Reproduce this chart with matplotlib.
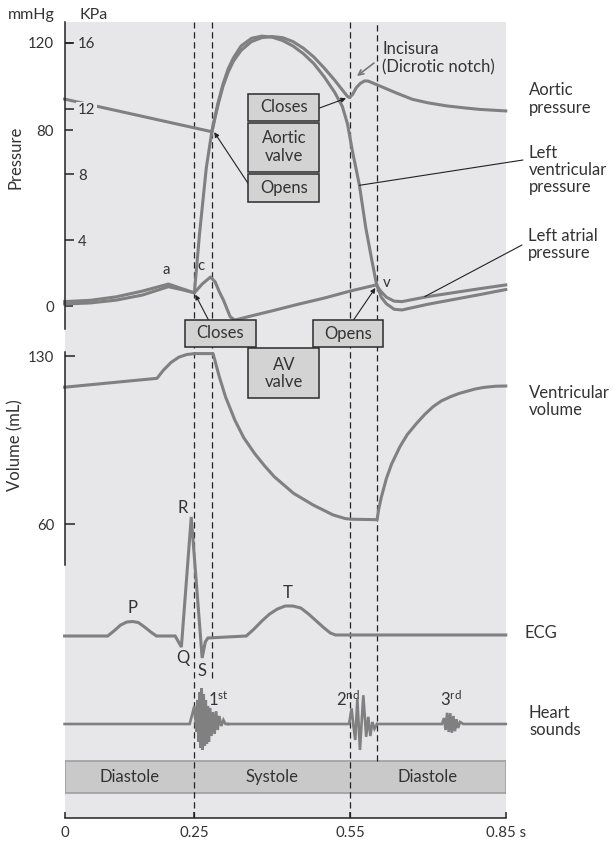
import matplotlib
matplotlib.use("Agg")
import matplotlib.pyplot as plt
from matplotlib.patches import Rectangle

plt.rcParams['font.family'] = ['Lato', 'DejaVu Sans']
plt.rcParams['mathtext.fontset'] = 'custom'
plt.rcParams['mathtext.rm'] = 'Lato'
plt.rcParams['mathtext.it'] = 'Lato:italic'

# ---------------- data ----------------
t_aortic = [0.0, 0.284, 0.29, 0.297, 0.305, 0.315, 0.325, 0.34, 0.36, 0.38, 0.40, 0.42, 0.44,
            0.46, 0.48, 0.50, 0.52, 0.535, 0.545, 0.549, 0.555, 0.562, 0.57, 0.578, 0.585,
            0.595, 0.61, 0.64, 0.67, 0.70, 0.736, 0.77, 0.80, 0.85]
p_aortic = [94.3, 79.4, 86, 93, 100, 106.5, 111.5, 116.5, 120.5, 122.3, 122.8, 122.3, 120.5,
            117.5, 113.5, 108.5, 103, 98.5, 95.5, 95, 96.5, 99.5, 101.5, 102.6, 102.5,
            101.5, 100, 97, 94.2, 92.6, 91.2, 90.3, 89.6, 88.9]

t_lv = [0.0, 0.05, 0.10, 0.15, 0.20, 0.225, 0.25, 0.26, 0.273, 0.284, 0.295, 0.305, 0.315,
        0.325, 0.34, 0.36, 0.38, 0.40, 0.42, 0.44, 0.46, 0.48, 0.50, 0.52, 0.535, 0.545,
        0.555, 0.562, 0.568, 0.58, 0.591, 0.60, 0.61, 0.62, 0.635, 0.65, 0.70, 0.75, 0.80, 0.85]
p_lv = [0.9, 1.4, 2.7, 5.0, 8.8, 7.5, 6.0, 33, 63, 80, 92, 101, 108,
        113, 118.5, 122, 123, 122.5, 121, 118.5, 115, 110.5, 104.5, 97.5, 91, 83,
        70, 62, 55, 36, 22, 11, 4, 1, -1.5, -1.8, 0.8, 3.0, 5.2, 7.5]

t_la = [0.0, 0.05, 0.10, 0.15, 0.20, 0.225, 0.25, 0.265, 0.281, 0.29, 0.298, 0.306, 0.319,
        0.328, 0.36, 0.40, 0.45, 0.50, 0.55, 0.60, 0.61, 0.62, 0.635, 0.65, 0.70, 0.75, 0.80, 0.85]
p_la = [2.0, 2.6, 4.2, 6.8, 10.0, 8.0, 6.0, 10.0, 13.2, 11.0, 6.5, 2.7, -4.9,
        -6.4, -4.5, -2.2, 0.8, 3.6, 6.8, 9.6, 6.5, 4.0, 2.2, 2.0, 4.3, 6.1, 7.9, 9.6]

t_vol = [0.0, 0.178, 0.19, 0.205, 0.22, 0.235, 0.25, 0.286, 0.298, 0.31, 0.328, 0.345, 0.366,
         0.385, 0.404, 0.441, 0.479, 0.517, 0.54, 0.551, 0.602, 0.605, 0.61, 0.62, 0.63,
         0.646, 0.66, 0.678, 0.694, 0.71, 0.726, 0.743, 0.76, 0.775, 0.79, 0.807, 0.83, 0.85]
v_vol = [117, 120.7, 124, 127.3, 129.5, 130.6, 131, 131, 121.4, 113, 103.3, 96, 89.4,
         84.3, 79.7, 72.8, 67.9, 63.8, 62.3, 62, 61.8, 66, 71, 79, 85,
         92.2, 97.2, 101.9, 105.7, 108.9, 111.3, 113, 114.4, 115.3, 116.2, 116.9, 117.4, 117.5]

t_ecg = [0.0, 0.083, 0.095, 0.108, 0.12, 0.131, 0.142, 0.154, 0.166, 0.177, 0.213, 0.225,
         0.244, 0.265, 0.271, 0.276, 0.35, 0.365, 0.38, 0.395, 0.41, 0.425, 0.44, 0.455,
         0.47, 0.485, 0.50, 0.512, 0.522, 0.85]
v_ecg = [0.0, 0.0, 0.05, 0.11, 0.14, 0.145, 0.135, 0.09, 0.04, 0.0, 0.0, -0.11,
         1.19, -0.22, -0.06, -0.02, 0.0, 0.07, 0.15, 0.22, 0.27, 0.30, 0.30, 0.28,
         0.22, 0.15, 0.08, 0.03, 0.01, 0.01]

t_sound1 = [0.0, 0.241, 0.246, 0.250, 0.254, 0.256, 0.258, 0.260, 0.262, 0.264, 0.266, 0.268,
            0.270, 0.272, 0.274, 0.276, 0.278, 0.280, 0.283, 0.286, 0.289, 0.292, 0.295,
            0.298, 0.302, 0.306, 0.310, 0.315]
a_sound1 = [0.0, 0.0, 0.25, 0.45, -0.2, 0.6, -0.45, 0.8, -0.6, 0.9, -0.65, 0.75,
            -0.55, 0.6, -0.5, 0.45, -0.45, 0.4, -0.3, 0.3, -0.25, 0.32, -0.15,
            0.2, -0.05, 0.1, 0.0, 0.0]
t_sound2 = [0.315, 0.548, 0.553, 0.556, 0.560, 0.564, 0.569, 0.5755, 0.581, 0.585, 0.589,
            0.593, 0.597, 0.602]
a_sound2 = [0.0, 0.0, 0.39, 0.0, -0.4, 0.64, -0.65, 0.72, -0.32, 0.18, -0.3, 0.05, -0.12, 0.0]
t_sound3 = [0.602, 0.727, 0.731, 0.734, 0.737, 0.740, 0.743, 0.746, 0.749, 0.752, 0.755,
            0.758, 0.762, 0.768, 0.85]
a_sound3 = [0.0, 0.0, 0.15, -0.15, 0.28, -0.2, 0.27, -0.22, 0.2, -0.18, 0.12, -0.1, 0.05,
            0.0, 0.0]

phase_names = ["Diastole", "Systole", "Diastole"]
phase_edges = [0.0, 0.25, 0.55, 0.85]
event_times = [0.25, 0.284, 0.55, 0.602]

xticks = [0, 0.25, 0.55, 0.85]
xtick_labels = ["0", "0.25", "0.55", "0.85 s"]
mmhg_ticks = [0, 80, 120]
kpa_ticks = [4, 8, 12, 16]
vol_ticks = [60, 130]
MMHG_PER_KPA = 7.5

# ---------------- style / layout ----------------
W, H, DPI = 613, 844, 100
XL, XR = 64.6, 505.8
BG = '#e7e7e9'
TRACE = '#808080'
TXT = '#333333'
INK = '#222222'
BOXFC = '#d3d3d3'
FS = 12
TFS = 10.8
LW = 2.2

fig = plt.figure(figsize=(W / DPI, H / DPI), dpi=DPI)


def add_ax(top, bottom, left=XL, right=XR):
    a = fig.add_axes([left / W, 1 - bottom / H, (right - left) / W, (bottom - top) / H])
    return a


def ftext(x, y, s, **kw):
    kw.setdefault('color', TXT)
    kw.setdefault('fontsize', FS)
    return fig.text(x / W, 1 - y / H, s, **kw)


def fbox(x0, y0, x1, y1):
    r = Rectangle((x0 / W, 1 - y1 / H), (x1 - x0) / W, (y1 - y0) / H,
                  transform=fig.transFigure, fc=BOXFC, ec='#2b2b2b', lw=1.1, zorder=5)
    fig.add_artist(r)


def fpx(x, y):
    return (x, H - y)


# background axes (time axis, dashed event lines, phase bar)
TOP, BOT = 22, 818
ax_bg = add_ax(TOP, BOT)
ax_bg.set_facecolor(BG)
ax_bg.set_xlim(0, 0.85)
ax_bg.set_ylim(0, 1)
for s in ['top', 'right', 'left']:
    ax_bg.spines[s].set_visible(False)
ax_bg.spines['bottom'].set_color(INK)
ax_bg.spines['bottom'].set_linewidth(1.1)
ax_bg.set_yticks([])
ax_bg.set_xticks(xticks)
ax_bg.set_xticklabels(xtick_labels)
ax_bg.tick_params(axis='x', direction='in', length=4.5, width=1.1, pad=6,
                  labelsize=TFS, color=INK, labelcolor=TXT)


def frac(py):
    return (BOT - py) / (BOT - TOP)


# phase bar
bar_top, bar_bot = 761, 793
widths = [phase_edges[-1] - phase_edges[0]]
ax_bg.barh((frac(bar_top) + frac(bar_bot)) / 2, widths, left=phase_edges[0],
           height=frac(bar_top) - frac(bar_bot), color='#c9c9c9', edgecolor='#a3a3a3',
           linewidth=1.3, zorder=1)
for i, name in enumerate(phase_names):
    ax_bg.text((phase_edges[i] + phase_edges[i + 1]) / 2,
               (frac(bar_top) + frac(bar_bot)) / 2, name, ha='center', va='center',
               fontsize=FS, color=TXT, zorder=3)

# dashed event lines
ends = [BOT, 678, BOT, 761]
for tev, e in zip(event_times, ends):
    ax_bg.vlines(tev, frac(e), 1, colors=INK, linestyles=(0, (5, 3)), linewidth=0.9, zorder=2)

# pressure axes
P0, P120 = 306.0, 42.7
kp = (P0 - P120) / 120.0
p_top, p_bot = 22, 329
ax_p = add_ax(p_top, p_bot)
ax_p.set_facecolor('none')
ax_p.set_xlim(0, 0.85)
plim = ((P0 - p_bot) / kp, (P0 - p_top) / kp)
ax_p.set_ylim(*plim)
for s in ['top', 'right', 'bottom']:
    ax_p.spines[s].set_visible(False)
ax_p.spines['left'].set_color(INK)
ax_p.spines['left'].set_linewidth(1.1)
ax_p.set_xticks([])
ax_p.set_yticks(mmhg_ticks)
ax_p.tick_params(axis='y', direction='in', length=6, width=1.1, pad=7.5,
                 labelsize=TFS, color=INK, labelcolor=TXT)

ax_k = ax_p.twinx()
ax_k.set_ylim(plim[0] / MMHG_PER_KPA, plim[1] / MMHG_PER_KPA)
ax_k.spines['right'].set_position(('axes', 0.0))
for s in ['top', 'right', 'bottom', 'left']:
    ax_k.spines[s].set_visible(False)
ax_k.set_yticks(kpa_ticks)
ax_k.tick_params(axis='y', direction='out', length=6.5, width=1.1, pad=3,
                 labelsize=TFS, color=INK, labelcolor=TXT)
for lab in ax_k.get_yticklabels():
    lab.set_bbox(dict(fc=BG, ec='none', pad=1.0))

ax_p.plot(t_aortic, p_aortic, color=TRACE, lw=LW, solid_joinstyle='round', clip_on=False)
ax_p.plot(t_lv, p_lv, color=TRACE, lw=LW, solid_joinstyle='round', clip_on=False)
ax_p.plot(t_la, p_la, color=TRACE, lw=LW, solid_joinstyle='round', clip_on=False)

# a, c, v labels
ax_p.text(0.195, 13.0, 'a', fontsize=TFS, color=TXT, ha='center', va='bottom')
ax_p.text(0.262, 15.0, 'c', fontsize=TFS, color=TXT, ha='center', va='bottom')
ax_p.text(0.62, 7.5, 'v', fontsize=TFS, color=TXT, ha='center', va='bottom')

arrow_k = dict(arrowstyle='-|>', color=INK, lw=0.8, shrinkA=0, shrinkB=1.5, mutation_scale=7)
# aortic valve box arrows
ax_p.annotate('', xy=(0.546, 95), xytext=fpx(319.5, 108), textcoords='figure pixels',
              arrowprops=arrow_k)
ax_p.annotate('', xy=(0.286, 80), xytext=fpx(248.5, 184), textcoords='figure pixels',
              arrowprops=arrow_k)
# AV valve arrows
ax_p.annotate('', xy=(0.25, 6), xytext=fpx(208.5, 320), textcoords='figure pixels',
              arrowprops=arrow_k)
ax_p.annotate('', xy=(0.601, 9), xytext=fpx(353.5, 320), textcoords='figure pixels',
              arrowprops=arrow_k)
# incisura arrow
ax_p.annotate('', xy=fpx(357, 76), xycoords='figure pixels', xytext=fpx(374, 63),
              textcoords='figure pixels',
              arrowprops=dict(arrowstyle='->', color='#777777', lw=1.2, shrinkA=0, shrinkB=0,
                              mutation_scale=9))
# leaders to right labels
lead = dict(arrowstyle='-', color=INK, lw=0.8, shrinkA=0, shrinkB=0)
ax_p.annotate('', xy=(0.568, 55), xytext=fpx(523, 160), textcoords='figure pixels',
              arrowprops=lead)
ax_p.annotate('', xy=(0.694, 4.3), xytext=fpx(522, 245), textcoords='figure pixels',
              arrowprops=lead)

# volume axes
V130, V60 = 356.0, 524.0
kv = (V60 - V130) / 70.0
v_top, v_bot = 340, 570
ax_v = add_ax(v_top, v_bot)
ax_v.set_facecolor('none')
ax_v.set_xlim(0, 0.85)
ax_v.set_ylim(60 - (v_bot - V60) / kv, 130 + (V130 - v_top) / kv)
for s in ['top', 'right', 'bottom']:
    ax_v.spines[s].set_visible(False)
ax_v.spines['left'].set_color(INK)
ax_v.spines['left'].set_linewidth(1.1)
ax_v.spines['left'].set_bounds(60 - (565 - V60) / kv, 130 + (V130 - 352) / kv)
ax_v.set_xticks([])
ax_v.set_yticks(vol_ticks)
ax_v.tick_params(axis='y', direction='in', length=7, width=1.1, pad=7.5,
                 labelsize=TFS, color=INK, labelcolor=TXT)
ax_v.plot(t_vol, v_vol, color=TRACE, lw=LW, solid_joinstyle='round', clip_on=False)

# ECG axes
E0 = 636.0
e_top, e_bot = 480, 690
ax_e = add_ax(e_top, e_bot)
ax_e.set_facecolor('none')
ax_e.axis('off')
ax_e.set_xlim(0, 0.85)
ax_e.set_ylim(-(e_bot - E0) / 100, (E0 - e_top) / 100)
ax_e.plot(t_ecg, v_ecg, color=TRACE, lw=LW, solid_joinstyle='miter', clip_on=False)
ax_e.text(0.13, 0.2, 'P', fontsize=FS, color=TXT, ha='center', va='bottom')
ax_e.text(0.228, 1.2, 'R', fontsize=FS, color=TXT, ha='center', va='bottom')
ax_e.text(0.227, -0.14, 'Q', fontsize=FS, color=TXT, ha='center', va='top')
ax_e.text(0.265, -0.27, 'S', fontsize=FS, color=TXT, ha='center', va='top')
ax_e.text(0.43, 0.355, 'T', fontsize=FS, color=TXT, ha='center', va='bottom')

# heart sounds axes
S0 = 724.0
s_top, s_bot = 684, 764
ax_s = add_ax(s_top, s_bot)
ax_s.set_facecolor('none')
ax_s.axis('off')
ax_s.set_xlim(0, 0.85)
ax_s.set_ylim(-1, 1)
for tt, aa in [(t_sound1, a_sound1), (t_sound2, a_sound2), (t_sound3, a_sound3)]:
    ax_s.plot(tt, aa, color=TRACE, lw=1.9, solid_joinstyle='miter', clip_on=False)
ax_s.text(0.276, 0.62, '1$^{\\rm st}$', fontsize=FS, color=TXT, ha='left', va='center')
ax_s.text(0.522, 0.62, '2$^{\\rm nd}$', fontsize=FS, color=TXT, ha='left', va='center')
ax_s.text(0.723, 0.62, '3$^{\\rm rd}$', fontsize=FS, color=TXT, ha='left', va='center')

# boxes (aortic valve)
bx0, bx1 = 248.3, 319.3
fbox(bx0, 94, bx1, 120.7)
fbox(bx0, 122.7, bx1, 171.7)
fbox(bx0, 174, bx1, 201.7)
bxc = (bx0 + bx1) / 2
ftext(bxc, 107.5, 'Closes', ha='center', va='center', zorder=6)
ftext(bxc, 147, 'Aortic\nvalve', ha='center', va='center', linespacing=1.1, zorder=6)
ftext(bxc, 188, 'Opens', ha='center', va='center', zorder=6)
# boxes (AV valve)
fbox(185, 320, 256, 346.7)
fbox(248.3, 348.3, 319.3, 398.3)
fbox(312.7, 320, 383.3, 346.7)
ftext(220.5, 333.5, 'Closes', ha='center', va='center', zorder=6)
ftext(283.8, 373.5, 'AV\nvalve', ha='center', va='center', linespacing=1.1, zorder=6)
ftext(348, 333.5, 'Opens', ha='center', va='center', zorder=6)

# incisura text
ftext(382, 58, 'Incisura\n(Dicrotic notch)', ha='left', va='center', linespacing=1.15)

# right labels
RX = 529
ftext(RX, 99, 'Aortic\npressure', ha='left', va='center', linespacing=1.1)
ftext(RX, 170, 'Left\nventricular\npressure', ha='left', va='center', linespacing=1.1)
ftext(RX - 1, 244.5, 'Left atrial\npressure', ha='left', va='center', linespacing=1.1)
ftext(RX, 401.5, 'Ventricular\nvolume', ha='left', va='center', linespacing=1.1)
ftext(524, 633, 'ECG', ha='left', va='center')
ftext(RX, 721.5, 'Heart\nsounds', ha='left', va='center', linespacing=1.1)

# axis titles
ftext(31.5, 15, 'mmHg', ha='center', va='center', fontsize=11.5)
ftext(94, 15, 'KPa', ha='center', va='center', fontsize=11.5)
ftext(15, 157, 'Pressure', ha='center', va='center', rotation=90)
ftext(15, 445, 'Volume (mL)', ha='center', va='center', rotation=90)

fig.savefig('out.png', dpi=DPI)
